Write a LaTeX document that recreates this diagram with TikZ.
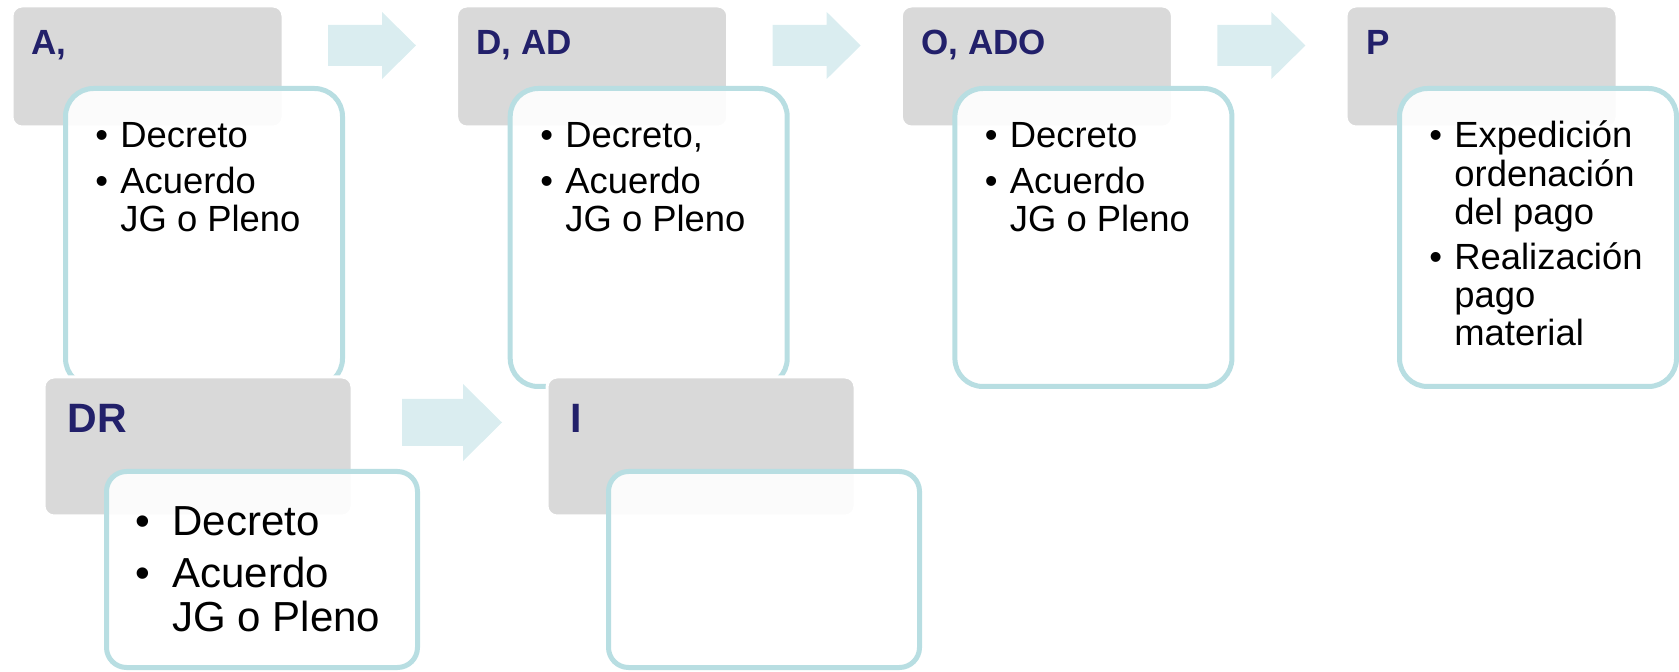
\documentclass[tikz,border=0pt]{standalone}
\usepackage{fontspec}
\setmainfont{Liberation Sans}
\definecolor{boxgray}{RGB}{217,217,217}
\definecolor{rimteal}{RGB}{184,222,226}
\definecolor{arrowteal}{RGB}{218,237,240}
\definecolor{headnavy}{RGB}{34,32,106}

% bullet list inside a card: #1 = bullet column width
\newcommand{\bulletlist}[2]{\begin{tabular}[t]{@{}l@{}l@{}}#2\end{tabular}}
\newcommand{\bl}[1]{\makebox[#1][l]{•}}

\begin{document}
\begin{tikzpicture}[x=0.5pt,y=-0.5pt,
  graybox/.style={fill=boxgray, draw=white, line width=1.5pt, rounded corners=5pt,
    anchor=north west, inner sep=0pt, outer sep=0pt},
  topgray/.style={graybox, minimum width=135.5pt, minimum height=60.5pt},
  lowgray/.style={graybox, minimum width=154pt, minimum height=69.5pt},
  card/.style={fill=white, fill opacity=0.9, draw=rimteal, draw opacity=1, line width=2.5pt,
    anchor=north west, inner sep=0pt, outer sep=0pt},
  topcard/.style={card, rounded corners=14pt, minimum width=138.5pt, minimum height=149pt},
  lowcard/.style={card, rounded corners=10pt, minimum width=155.5pt, minimum height=98pt},
  headtxt/.style={anchor=base west, inner sep=0pt, text=headnavy, font=\fontsize{17.5}{20}\selectfont\bfseries},
  lowhead/.style={headtxt, font=\fontsize{20.5}{24}\selectfont\bfseries},
  bodytxt/.style={anchor=base west, inner sep=0pt, text=black, font=\fontsize{18.2}{19.2}\selectfont},
  lowbody/.style={bodytxt, font=\fontsize{21}{21.5}\selectfont},
  blockarrow/.style={fill=arrowteal, draw=none}
]
\useasboundingbox (0,0) rectangle (1679,672);

% ---------- top row ----------
\node[topgray] (ga) at (12,6) {};
\node[topgray] (gd) at (456.7,6) {};
\node[topgray] (go) at (901.4,6) {};
\node[topgray] (gp) at (1346,6) {};

\node[headtxt] (ha) at (31,55) {A,};
\node[headtxt] (hd) at (476,55) {D, AD};
\node[headtxt] (ho) at (921,55) {O, ADO};
\node[headtxt] (hp) at (1366,55) {P};

\node[topcard] (ca) at (65.5,88.5) {};
\node[topcard] (cd) at (510.2,88.5) {};
\node[topcard] (co) at (954.9,88.5) {};
\node[topcard] (cp) at (1399.5,88.5) {};

\node[bodytxt] (ta) at (95,148) {\bulletlist{}{\bl{12.5pt}&Decreto\\[3.5pt] \bl{12.5pt}&Acuerdo\\ &JG o Pleno}};
\node[bodytxt] (td) at (540,148) {\bulletlist{}{\bl{12.5pt}&Decreto,\\[3.5pt] \bl{12.5pt}&Acuerdo\\ &JG o Pleno}};
\node[bodytxt] (to) at (984.5,148) {\bulletlist{}{\bl{12.5pt}&Decreto\\[3.5pt] \bl{12.5pt}&Acuerdo\\ &JG o Pleno}};
\node[bodytxt] (tp) at (1429,148) {\bulletlist{}{\bl{12.5pt}&Expedición\\ &ordenación\\ &del pago\\[3pt] \bl{12.5pt}&Realización\\ &pago\\ &material}};

% block arrows between the top cards
\foreach \dx in {0,444.7,889.4}{
  \fill[blockarrow] (328+\dx,25) -- (382+\dx,25) -- (382+\dx,12) -- (416+\dx,45.5)
    -- (382+\dx,79) -- (382+\dx,66) -- (328+\dx,66) -- cycle;
}

% ---------- bottom row ----------
\node[lowgray] (gdr) at (44,377) {};
\node[lowgray] (gi) at (547,377) {};

\node[lowhead] (hdr) at (67,433) {DR};
\node[lowhead] (hi) at (570,433) {I};

\node[lowcard] (cdr) at (106.5,471.5) {};
\node[lowcard] (ci) at (608.5,471.5) {};

\node[lowbody] (tdr) at (135,536) {\bulletlist{}{\bl{18.5pt}&Decreto\\[4.25pt] \bl{18.5pt}&Acuerdo\\ &JG o Pleno}};

\fill[blockarrow] (402,399) -- (463,399) -- (463,384) -- (502,422.5)
  -- (463,461) -- (463,446) -- (402,446) -- cycle;
\end{tikzpicture}
\end{document}
